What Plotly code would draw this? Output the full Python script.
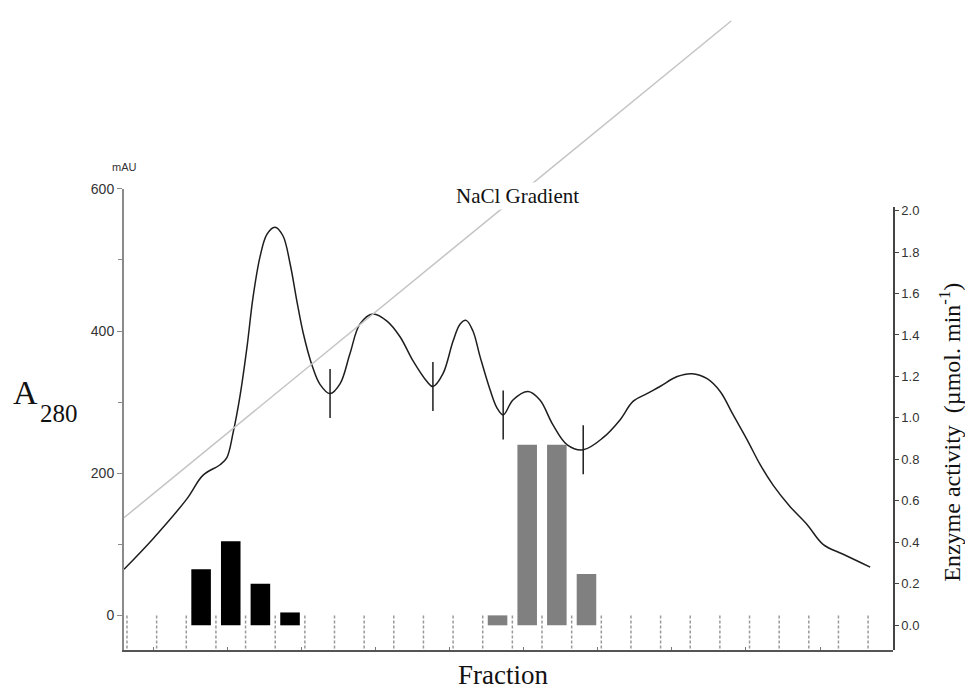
import plotly.graph_objects as go

# ---- data ----
curve_fraction = [0.40, 1.38, 2.52, 3.06, 3.64, 3.87, 4.08, 4.31, 4.55, 4.75, 4.99, 5.22, 5.49,
                  5.76, 6.00, 6.24, 6.44, 6.74, 7.01, 7.35, 7.69, 8.02, 8.36, 8.80, 9.27, 9.71,
                  10.15, 10.62, 10.82, 11.16, 11.50, 11.74, 11.94, 12.17, 12.41, 12.75, 12.98,
                  13.19, 13.52, 14.03, 14.43, 14.87, 15.35, 15.89, 16.56, 17.13, 17.57, 18.04,
                  18.48, 19.06, 19.56, 20.07, 20.51, 20.95, 21.42, 21.86, 22.30, 22.87, 23.44,
                  23.98, 24.66, 25.57]
a280_mau = [65, 108, 164, 197, 212, 222, 257, 308, 378, 447, 505, 536, 546,
            534, 495, 440, 398, 352, 325, 312, 326, 368, 410, 424, 414, 392,
            358, 329, 322, 340, 386, 410, 415, 400, 364, 317, 292,
            282, 303, 315, 303, 268, 240, 233, 250, 275, 301, 312,
            322, 336, 340, 333, 315, 282, 247, 212, 183, 153, 128,
            100, 86, 68]

minima_fraction = [7.35, 10.82, 13.19, 15.89]
minima_mau = [312, 322, 282, 233]

gradient_fraction = [0.40, 20.88]
gradient_mau = [137.5, 836]

black_fraction = [3, 4, 5, 6]
black_activity = [0.27, 0.405, 0.20, 0.062]
gray_fraction = [13, 14, 15, 16]
gray_activity = [0.048, 0.871, 0.871, 0.248]

fraction_edges = [0.5 + k for k in range(26)]

left_ticks = [0, 200, 400, 600]
right_ticks = [0.0, 0.2, 0.4, 0.6, 0.8, 1.0, 1.2, 1.4, 1.6, 1.8, 2.0]

# ---- axis geometry ----
Y_MIN, Y_MAX = -48.6, 600
Y_DOM = 0.7297
Y3_MAX = Y_MIN + (Y_MAX - Y_MIN) / Y_DOM

fig = go.Figure()

# fraction separators (dashed)
ex, ey = [], []
for e in fraction_edges:
    ex += [e, e, None]
    ey += [0, Y_MIN, None]
fig.add_trace(go.Scatter(x=ex, y=ey, mode="lines", xaxis="x", yaxis="y",
                         line=dict(color="#9a9a9a", width=1.5, dash="3px,2px"),
                         hoverinfo="skip", showlegend=False))

# A280 curve
fig.add_trace(go.Scatter(x=curve_fraction, y=a280_mau, mode="lines", xaxis="x", yaxis="y",
                         line=dict(color="#1e1e1e", width=1.5, shape="spline", smoothing=1.0),
                         showlegend=False))

# minima markers
fig.add_trace(go.Scatter(x=minima_fraction, y=minima_mau, mode="markers", xaxis="x", yaxis="y",
                         marker=dict(symbol="line-ns", size=35,
                                     line=dict(color="#1e1e1e", width=1.5)),
                         showlegend=False))

# activity bars
fig.add_trace(go.Bar(x=black_fraction, y=black_activity, xaxis="x", yaxis="y2",
                     width=0.66, marker=dict(color="#000000", line=dict(width=0)),
                     showlegend=False))
fig.add_trace(go.Bar(x=gray_fraction, y=gray_activity, xaxis="x", yaxis="y2",
                     width=0.66, marker=dict(color="#808080", line=dict(width=0)),
                     showlegend=False))

# NaCl gradient
fig.add_trace(go.Scatter(x=gradient_fraction, y=gradient_mau, mode="lines", xaxis="x", yaxis="y3",
                         line=dict(color="#c4c4c4", width=1.5), showlegend=False))

tickfont_l = dict(family="Liberation Sans, Arial, sans-serif", size=14, color="#333333")
tickfont_r = dict(family="Liberation Sans, Arial, sans-serif", size=13, color="#333333")
serif = "Liberation Serif, Times New Roman, serif"

fig.update_layout(
    width=965, height=688,
    margin=dict(l=124, r=72, t=10, b=38),
    paper_bgcolor="white", plot_bgcolor="rgba(0,0,0,0)",
    barmode="overlay",
    xaxis=dict(range=[0.399, 26.34], domain=[0, 1], anchor="y",
               showline=True, linecolor="#555555", linewidth=2,
               showgrid=False, zeroline=False,
               ticks="inside", tick0=1.38, dtick=2.5, ticklen=3, tickcolor="#777777",
               showticklabels=False),
    yaxis=dict(range=[Y_MIN, Y_MAX], domain=[0, Y_DOM], anchor="x",
               showline=True, linecolor="#8a8a8a", linewidth=2,
               showgrid=False, zeroline=False,
               tickvals=left_ticks, ticks="outside", ticklen=5, tickcolor="#8a8a8a",
               tickfont=tickfont_l,
               minor=dict(dtick=100, tick0=0, ticks="outside", ticklen=4, tickcolor="#8a8a8a")),
    yaxis2=dict(range=[-0.119, 2.019], domain=[0, 0.7016], anchor="x", side="right",
                showline=True, linecolor="#444444", linewidth=1.5,
                showgrid=False, zeroline=False,
                tickvals=right_ticks, tickformat=".1f",
                ticks="outside", ticklen=4, tickcolor="#444444",
                tickfont=tickfont_r),
    yaxis3=dict(range=[Y_MIN, Y3_MAX], domain=[0, 1], anchor="x", visible=False),
    annotations=[
        dict(text="mAU", xref="paper", yref="paper", x=-0.0, y=(650 - 161) / 640,
             xanchor="center", yanchor="middle", showarrow=False,
             font=dict(family="Liberation Sans, Arial, sans-serif", size=11, color="#333333")),
        dict(text="A", xref="paper", yref="paper",
             x=(11 - 124) / 769, y=(650 - 389) / 640, xanchor="left", yanchor="middle",
             showarrow=False, font=dict(family=serif, size=34, color="#111111")),
        dict(text="280", xref="paper", yref="paper",
             x=(38 - 124) / 769, y=(650 - 411) / 640, xanchor="left", yanchor="middle",
             showarrow=False, font=dict(family=serif, size=25, color="#111111")),
        dict(text="NaCl Gradient", xref="paper", yref="paper",
             x=(517 - 124) / 769, y=(650 - 190) / 640, xanchor="center", yanchor="middle",
             showarrow=False, bgcolor="white",
             font=dict(family=serif, size=21, color="#111111")),
        dict(text="Fraction", xref="paper", yref="paper",
             x=(503 - 124) / 769, y=(650 - 675) / 640, xanchor="center", yanchor="middle",
             showarrow=False, font=dict(family=serif, size=27, color="#111111")),
        dict(text="Enzyme activity  (µmol. min<sup>-1</sup>)", xref="paper", yref="paper",
             x=(950 - 124) / 769, y=(650 - 430) / 640, xanchor="center", yanchor="middle",
             textangle=-90, showarrow=False,
             font=dict(family=serif, size=24, color="#111111")),
    ],
)

fig.write_html("out.html", config={"displayModeBar": False},
               post_script="document.body.style.margin='0';document.body.style.overflow='hidden';")
